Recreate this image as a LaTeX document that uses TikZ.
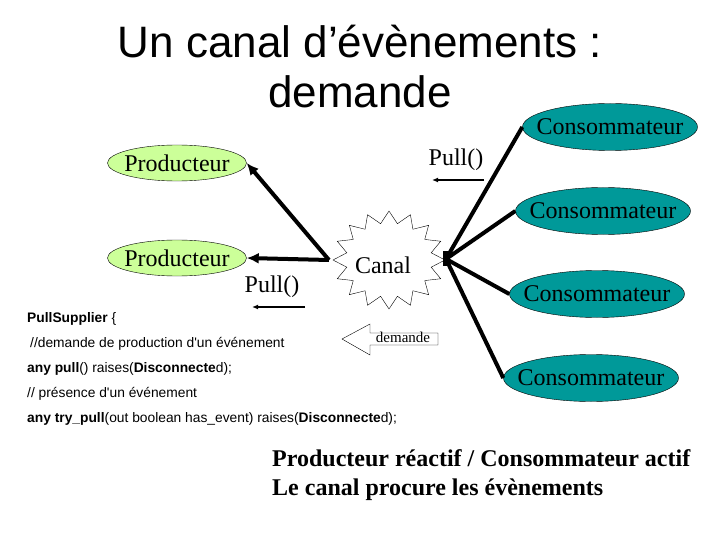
\documentclass[tikz,border=0pt]{standalone}
\usepackage{fontspec}
\setmainfont{Liberation Serif}
\setsansfont{Liberation Sans}
\usetikzlibrary{shapes.geometric, arrows.meta}

\definecolor{vertprod}{RGB}{204,255,153}
\definecolor{bleucons}{RGB}{0,153,153}

\begin{document}
\begin{tikzpicture}[
    x=1pt, y=-1pt,
    prod/.style={ellipse, draw, fill=vertprod, minimum width=139pt, minimum height=36pt, inner sep=0pt, font=\fontsize{24}{28}\selectfont},
    cons/.style={ellipse, draw, fill=bleucons, minimum width=175pt, minimum height=47pt, inner sep=0pt, font=\fontsize{24}{28}\selectfont},
    link/.style={line width=4pt},
    flux/.style={line width=4pt, -{Latex[length=12pt, width=11pt]}},
    sens/.style={line width=1.5pt, -{Latex[length=6pt, width=5pt]}},
    etiq/.style={inner sep=0pt, font=\fontsize{24}{28}\selectfont},
    code/.style={anchor=base west, inner sep=0pt, font=\sffamily\fontsize{13.8}{16}\selectfont},
    bilan/.style={anchor=base west, inner sep=0pt, font=\bfseries\fontsize{24}{28}\selectfont}
]
\useasboundingbox (0,0) rectangle (720,540);

% --- Titre ---
\node[anchor=base, inner sep=0pt, font=\sffamily\fontsize{44}{50}\selectfont] (titreA) at (360,58) {Un canal d’évènements :};
\node[anchor=base, inner sep=0pt, font=\sffamily\fontsize{44}{50}\selectfont] (titreB) at (360,108) {demande};

% --- Canal (etoile) ---
\coordinate (centre) at (389,260);
\draw ([shift={(0:56 and 49)}]centre)
    \foreach \a in {0,22.5,...,337.5} { -- ([shift={(\a:56 and 49)}]centre) -- ([shift={({\a+11.25}:43 and 37)}]centre) } -- cycle;
\node[etiq] (canal) at (383,265) {Canal};
\coordinate (canalO) at (329,260);
\coordinate (hub) at (446,259);
\fill (443,251) rectangle (450,266);

% --- Consommateurs ---
\node[cons] (consA) at (610,127) {\makebox[0pt]{Consommateur}};
\node[cons] (consB) at (603,211) {\makebox[0pt]{Consommateur}};
\node[cons] (consC) at (597,294) {\makebox[0pt]{Consommateur}};
\node[cons] (consD) at (591,378) {\makebox[0pt]{Consommateur}};
\foreach \c in {consA,consB,consC,consD}
    \draw[link] (hub) -- (\c.west);

% --- Producteurs ---
\node[prod] (prodA) at (177,163) {\makebox[0pt]{Producteur}};
\node[prod] (prodB) at (177,258) {\makebox[0pt]{Producteur}};
\draw[flux] (canalO) -- (prodA.east);
\draw[flux] (canalO) -- (prodB.east);

% --- Pull() ---
\node[etiq] (pullA) at (456,160) {Pull()};
\coordinate (pullAd) at (484,180);
\coordinate (pullAg) at (432,180);
\draw[sens] (pullAd) -- (pullAg);

\node[etiq] (pullB) at (272,287) {Pull()};
\coordinate (pullBd) at (305,307);
\coordinate (pullBg) at (252,307);
\draw[sens] (pullBd) -- (pullBg);

% --- Fleche demande ---
\draw (438,333) -- (370,333) -- (370,324) -- (342,339) -- (370,355) -- (370,345) -- (438,345) -- cycle;
\node[anchor=base, inner sep=0pt, font=\fontsize{15}{17}\selectfont] (demande) at (403,342) {demande};

% --- Interface PullSupplier ---
\node[code] (codeA) at (27,322) {\textbf{PullSupplier} \{};
\node[code] (codeB) at (30,347) {//demande de production d\textquotesingle un événement};
\node[code] (codeC) at (27,372) {\textbf{any pull}() raises(\textbf{Disconnecte}d);};
\node[code] (codeD) at (27,397) {// présence d\textquotesingle un événement};
\node[code] (codeE) at (27,422) {\textbf{any try\_pull}(out boolean has\_event) raises(\textbf{Disconnecte}d);};

% --- Bilan ---
\node[bilan] (bilanA) at (272,466) {Producteur réactif / Consommateur actif};
\node[bilan] (bilanB) at (272,495) {Le canal procure les évènements};

\end{tikzpicture}
\end{document}
